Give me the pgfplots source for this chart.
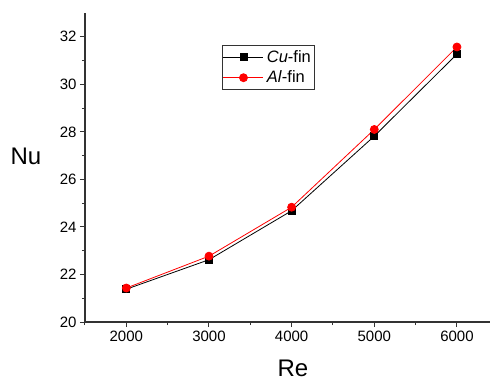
\documentclass[border=0pt]{standalone}
\usepackage{fontspec}
\setmainfont{Liberation Sans}
\usepackage{pgfplots}
\pgfplotsset{compat=1.18}
\begin{document}
\begin{tikzpicture}
\begin{axis}[
 name=ax,
 scale only axis, width=405pt, height=309pt,
 xmin=1500, xmax=6400, ymin=20, ymax=33,
 axis x line*=bottom, axis y line*=left,
 axis line style={line width=1.1pt, color=black!80},
 xtick={2000,3000,4000,5000,6000},
 minor xtick={1500,2500,3500,4500,5500},
 ytick={20,22,...,32},
 minor ytick={21,23,...,31},
 tick align=outside,
 major tick length=5pt, minor tick length=3pt,
 tick style={line width=1pt, black!80},
 ticklabel style={font=\fontsize{15}{18}\selectfont},
 /pgf/number format/assume math mode=true,
 /pgf/number format/set thousands separator={},
 legend cell align=left,
 legend style={at={(0.3375,0.896)}, anchor=north west, draw=black!80, line width=0.8pt,
   font=\fontsize{16.5}{19}\selectfont, row sep=3pt, inner xsep=1pt, inner ysep=3pt,
   nodes={inner xsep=3pt}},
 legend image code/.code={\draw[mark repeat=2,mark phase=2] plot coordinates {(0pt,0pt)(20pt,0pt)(40pt,0pt)};},
]
\addplot[black, line width=0.8pt, mark=square*, mark size=3.5pt, mark options={solid}] coordinates {
 (2000,21.38) (3000,22.62) (4000,24.68) (5000,27.82) (6000,31.27)};
\addlegendentry{\textit{Cu}-fin}
\addplot[red, line width=0.8pt, mark=*, mark size=4pt, mark options={solid}] coordinates {
 (2000,21.43) (3000,22.77) (4000,24.83) (5000,28.10) (6000,31.57)};
\addlegendentry{\textit{Al}-fin}
\end{axis}
\node[font=\fontsize{24}{28}\selectfont] at ([shift={(-59pt,166pt)}]ax.south west) {Nu};
\node[font=\fontsize{24}{28}\selectfont] at ([shift={(208pt,-46pt)}]ax.south west) {Re};
\pgfresetboundingbox
\path ([shift={(-85pt,-61pt)}]ax.south west) rectangle ([shift={(0pt,13pt)}]ax.north east);
\end{tikzpicture}
\end{document}
